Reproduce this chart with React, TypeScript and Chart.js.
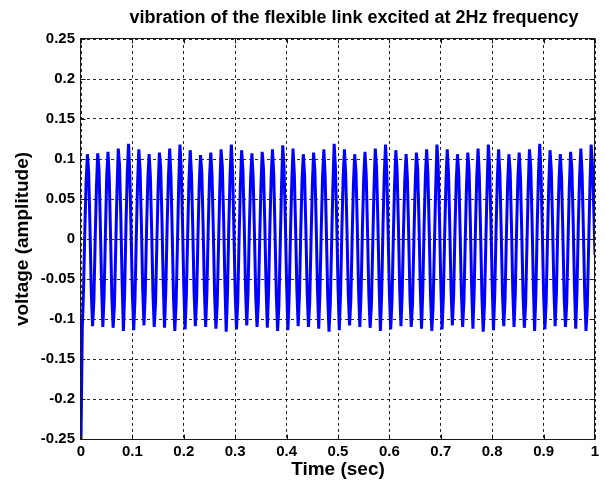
import React, { useEffect, useRef } from "react";
import { Chart, registerables } from "chart.js";

Chart.register(...registerables);

const titleText = "vibration of the flexible link excited at 2Hz frequency";
const xAxisTitle = "Time (sec)";
const yAxisTitle = "voltage (amplitude)";

const xTicks = [0, 0.1, 0.2, 0.3, 0.4, 0.5, 0.6, 0.7, 0.8, 0.9, 1];
const xTickLabels = ["0", "0.1", "0.2", "0.3", "0.4", "0.5", "0.6", "0.7", "0.8", "0.9", "1"];
const yTicks = [-0.25, -0.2, -0.15, -0.1, -0.05, 0, 0.05, 0.1, 0.15, 0.2, 0.25];
const yTickLabels = ["-0.25", "-0.2", "-0.15", "-0.1", "-0.05", "0", "0.05", "0.1", "0.15", "0.2", "0.25"];

// sampling interval of the recorded signal (sec)
const SAMPLE_DT = 0.0025;

// recorded voltage samples, one row per vibration cycle (8 samples each)
const voltage = [
  -0.25,
  -0.112, -0.062, 0.012, 0.072, 0.106, 0.082, 0.014, -0.066,
  -0.109, -0.078, -0.004, 0.064, 0.107, 0.088, 0.022, -0.058,
  -0.110, -0.070, 0.006, 0.078, 0.109, 0.076, 0.004, -0.072,
  -0.111, -0.084, -0.012, 0.060, 0.113, 0.092, 0.026, -0.054,
  -0.115, -0.066, 0.016, 0.082, 0.119, 0.080, 0.008, -0.070,
  -0.114, -0.076, 0.000, 0.068, 0.112, 0.086, 0.018, -0.062,
  -0.108, -0.068, 0.010, 0.074, 0.106, 0.078, 0.010, -0.068,
  -0.110, -0.080, -0.008, 0.062, 0.108, 0.090, 0.024, -0.056,
  -0.111, -0.064, 0.014, 0.076, 0.113, 0.078, 0.006, -0.074,
  -0.115, -0.082, -0.010, 0.066, 0.118, 0.088, 0.020, -0.060,
  -0.113, -0.070, 0.004, 0.072, 0.111, 0.080, 0.012, -0.066,
  -0.109, -0.074, 0.002, 0.068, 0.105, 0.084, 0.018, -0.062,
  -0.110, -0.066, 0.012, 0.076, 0.108, 0.078, 0.008, -0.070,
  -0.112, -0.082, -0.010, 0.062, 0.112, 0.090, 0.024, -0.056,
  -0.116, -0.068, 0.014, 0.080, 0.118, 0.082, 0.010, -0.068,
  -0.113, -0.078, -0.002, 0.066, 0.111, 0.086, 0.020, -0.060,
  -0.108, -0.066, 0.012, 0.076, 0.107, 0.076, 0.006, -0.072,
  -0.110, -0.080, -0.006, 0.064, 0.109, 0.088, 0.022, -0.058,
  -0.111, -0.064, 0.016, 0.078, 0.112, 0.080, 0.008, -0.070,
  -0.115, -0.084, -0.012, 0.062, 0.117, 0.090, 0.024, -0.056,
  -0.114, -0.072, 0.004, 0.070, 0.113, 0.082, 0.014, -0.064,
  -0.109, -0.070, 0.008, 0.072, 0.106, 0.080, 0.012, -0.066,
  -0.110, -0.078, -0.004, 0.066, 0.108, 0.086, 0.020, -0.060,
  -0.112, -0.064, 0.014, 0.078, 0.112, 0.078, 0.006, -0.072,
  -0.116, -0.082, -0.008, 0.064, 0.119, 0.090, 0.022, -0.058,
  -0.114, -0.068, 0.010, 0.076, 0.112, 0.080, 0.010, -0.068,
  -0.108, -0.076, 0.000, 0.068, 0.106, 0.084, 0.016, -0.064,
  -0.110, -0.066, 0.012, 0.076, 0.109, 0.078, 0.008, -0.070,
  -0.111, -0.082, -0.010, 0.062, 0.113, 0.090, 0.024, -0.056,
  -0.115, -0.068, 0.014, 0.080, 0.118, 0.082, 0.010, -0.068,
  -0.113, -0.078, -0.002, 0.066, 0.111, 0.086, 0.018, -0.062,
  -0.109, -0.066, 0.012, 0.074, 0.106, 0.076, 0.006, -0.072,
  -0.110, -0.080, -0.006, 0.064, 0.108, 0.088, 0.022, -0.058,
  -0.112, -0.064, 0.016, 0.078, 0.112, 0.080, 0.008, -0.070,
  -0.115, -0.084, -0.012, 0.062, 0.118, 0.090, 0.024, -0.056,
  -0.113, -0.072, 0.004, 0.070, 0.112, 0.082, 0.014, -0.064,
  -0.108, -0.070, 0.008, 0.072, 0.106, 0.080, 0.012, -0.066,
  -0.110, -0.078, -0.004, 0.066, 0.108, 0.086, 0.020, -0.060,
  -0.112, -0.064, 0.014, 0.078, 0.113, 0.078, 0.006, -0.072,
  -0.116, -0.082, -0.008, 0.064, 0.118, 0.090, 0.022, -0.058,
  -0.114, -0.068, 0.010, 0.076, 0.112, 0.080, 0.010, -0.068,
  -0.109, -0.076, 0.000, 0.068, 0.106, 0.084, 0.016, -0.064,
  -0.110, -0.066, 0.012, 0.076, 0.108, 0.078, 0.008, -0.070,
  -0.111, -0.082, -0.010, 0.062, 0.112, 0.090, 0.024, -0.056,
  -0.115, -0.068, 0.014, 0.080, 0.119, 0.082, 0.010, -0.068,
  -0.113, -0.078, -0.002, 0.066, 0.111, 0.086, 0.018, -0.062,
  -0.109, -0.066, 0.012, 0.074, 0.106, 0.076, 0.006, -0.072,
  -0.110, -0.080, -0.006, 0.064, 0.109, 0.088, 0.022, -0.058,
  -0.112, -0.064, 0.016, 0.078, 0.113, 0.080, 0.008, -0.070,
  -0.115, -0.084, -0.012, 0.062, 0.118, 0.092, 0.040, -0.020,
];

const FONT = '"Liberation Sans", Arial, Helvetica, sans-serif';

const framePlugin = {
  id: "matlabFrame",
  afterDraw(chart: any) {
    const { ctx, chartArea: a, scales } = chart;
    ctx.save();
    ctx.strokeStyle = "#1a1a1a";
    ctx.lineWidth = 1;
    ctx.setLineDash([]);
    const L = Math.round(a.left) - 0.5;
    const R = Math.round(a.right) - 0.5;
    const T = Math.round(a.top) - 0.5;
    const B = Math.round(a.bottom) + 0.5;
    ctx.beginPath();
    xTicks.forEach((v) => {
      const px = Math.round(scales.x.getPixelForValue(v)) + 0.5;
      ctx.moveTo(px, B);
      ctx.lineTo(px, B - 5);
      ctx.moveTo(px, T);
      ctx.lineTo(px, T + 5);
    });
    yTicks.forEach((v) => {
      const py = Math.round(scales.y.getPixelForValue(v)) + 0.5;
      ctx.moveTo(L, py);
      ctx.lineTo(L + 5, py);
      ctx.moveTo(R, py);
      ctx.lineTo(R - 5, py);
    });
    ctx.stroke();
    ctx.strokeRect(L, T, R - L, B - T);
    ctx.fillStyle = "#000";
    ctx.font = `bold 18px ${FONT}`;
    ctx.textAlign = "center";
    ctx.textBaseline = "middle";
    ctx.fillText(titleText, (a.left + a.right) / 2 + 16, 18);
    ctx.restore();
  },
};

export default function App() {
  const ref = useRef<HTMLCanvasElement | null>(null);
  useEffect(() => {
    if (!ref.current) return;
    const points = voltage.map((v, i) => ({ x: i * SAMPLE_DT, y: v }));
    const gridStyle = {
      display: true,
      color: "rgba(0,0,0,0.85)",
      lineWidth: 1,
      drawTicks: false,
    };
    const chart = new Chart(ref.current, {
      type: "line",
      data: {
        datasets: [
          {
            data: points,
            borderColor: "#0000ff",
            borderWidth: 3,
            borderJoinStyle: "miter",
            pointRadius: 0,
            tension: 0,
            fill: false,
          },
        ],
      },
      options: {
        animation: false,
        responsive: false,
        devicePixelRatio: 1,
        layout: { padding: { top: 39, right: 11, left: 0, bottom: 0 } },
        plugins: {
          legend: { display: false },
          title: { display: false },
          tooltip: { enabled: false },
        },
        scales: {
          x: {
            type: "linear",
            min: 0,
            max: 1,
            z: 1,
            border: { display: false, dash: [3, 3] },
            grid: gridStyle,
            afterBuildTicks: (scale: any) => {
              scale.ticks = xTicks.map((v) => ({ value: v }));
            },
            afterFit: (scale: any) => {
              scale.height = 49;
            },
            ticks: {
              autoSkip: false,
              maxRotation: 0,
              padding: 4,
              color: "#000",
              font: { family: FONT, size: 15, weight: "bold" },
              callback: (_v: any, i: number) => xTickLabels[i],
            },
            title: {
              display: true,
              text: xAxisTitle,
              color: "#000",
              font: { family: FONT, size: 19, weight: "bold" },
              padding: { top: 0, bottom: 7 },
            },
          },
          y: {
            type: "linear",
            min: -0.25,
            max: 0.25,
            z: 1,
            border: { display: false, dash: [3, 3] },
            grid: gridStyle,
            afterBuildTicks: (scale: any) => {
              scale.ticks = yTicks.map((v) => ({ value: v }));
            },
            afterFit: (scale: any) => {
              scale.width = 81;
            },
            ticks: {
              autoSkip: false,
              padding: 6,
              color: "#000",
              font: { family: FONT, size: 15, weight: "bold" },
              callback: (_v: any, i: number) => yTickLabels[i],
            },
            title: {
              display: true,
              text: yAxisTitle,
              color: "#000",
              font: { family: FONT, size: 19, weight: "bold" },
              padding: { top: 11, bottom: 0 },
            },
          },
        },
      },
      plugins: [framePlugin],
    } as any);
    return () => chart.destroy();
  }, []);
  return (
    <div style={{ position: "fixed", left: 0, top: 0, width: 606, height: 488, background: "#fff" }}>
      <canvas ref={ref} width={606} height={488} />
    </div>
  );
}
